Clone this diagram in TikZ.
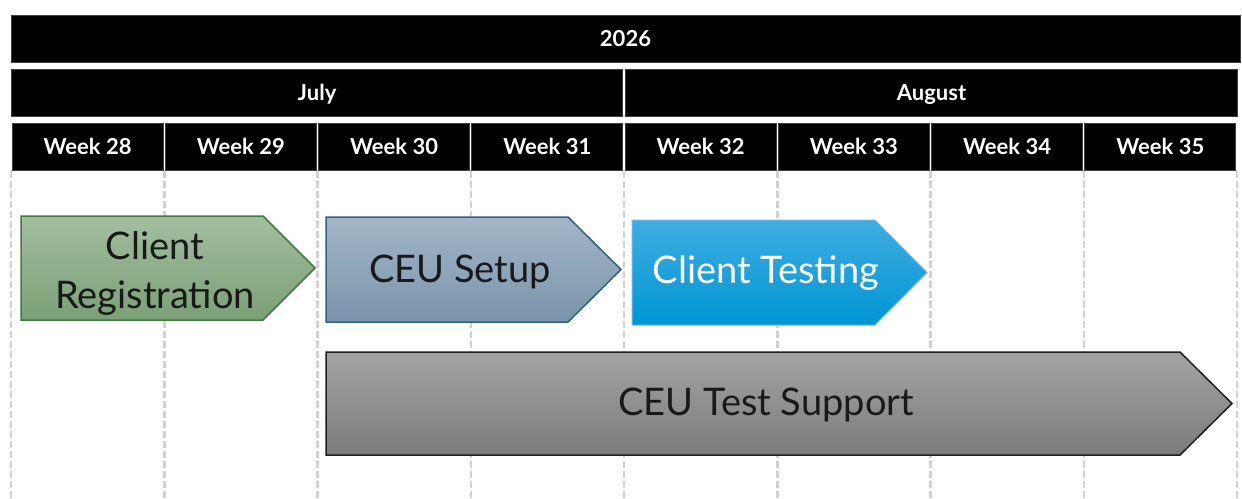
\documentclass[tikz,border=0pt]{standalone}
\usepackage{fontspec}
\setmainfont{Lato}
\definecolor{grtop}{RGB}{163,190,160}
\definecolor{grbot}{RGB}{122,160,118}
\definecolor{grline}{RGB}{62,125,58}
\definecolor{bltop}{RGB}{163,181,198}
\definecolor{blbot}{RGB}{122,148,172}
\definecolor{blline}{RGB}{46,98,130}
\definecolor{cytop}{RGB}{64,172,226}
\definecolor{cybot}{RGB}{0,150,212}
\definecolor{cyline}{RGB}{110,190,232}
\definecolor{gytop}{RGB}{163,163,163}
\definecolor{gybot}{RGB}{124,124,124}
\definecolor{gyline}{RGB}{30,30,30}
\definecolor{gridc}{RGB}{210,210,210}
\begin{document}
\begin{tikzpicture}[x=1pt,y=-1pt,
  hdr/.style={fill=black,draw=black!75,line width=0.8pt,text=white,
    font=\bfseries\fontsize{22}{24}\selectfont,inner sep=0pt,
    text height=15.5pt,text depth=0pt,anchor=center,minimum height=47pt},
  gridline/.style={draw=gridc,line width=2.5pt,dash pattern=on 7pt off 3pt},
  chevron/.style={line width=1.5pt},
  lbl/.style={font=\fontsize{38}{49}\selectfont,align=center,inner sep=0pt,text=black!90}]
\useasboundingbox (0,0) rectangle (1242,498);
% grid lines
\foreach \i in {0,...,8}{
  \coordinate (g\i top) at ({11+153.25*\i},171);
  \coordinate (g\i bot) at ({11+153.25*\i},498);
  \draw[gridline] (g\i top) -- (g\i bot);
}
% headers
\node[hdr,minimum width=1229pt] (year) at (625.5,38.5) {2026};
\node[hdr,minimum width=611pt] (july) at (317,92.5) {July};
\node[hdr,minimum width=612pt] (aug) at (931.5,92.5) {August};
\foreach \i/\w in {0/28,1/29,2/30,3/31,4/32,5/33,6/34,7/35}{
  \node[hdr,minimum width=151pt] (w\w) at ({11+153.25*(\i+0.5)},146.5) {Week \w};
}
% chevrons
\path[chevron,draw=grline,top color=grtop,bottom color=grbot]
  (21,216) -- (263,216) -- (315,268) -- (263,320) -- (21,320) -- cycle;
\node[lbl] (reg) at (155,273) {Client\\Registration};
\path[chevron,draw=blline,top color=bltop,bottom color=blbot]
  (326,217) -- (568,217) -- (621,269.5) -- (568,322) -- (326,322) -- cycle;
\node[lbl,anchor=base] (setup) at (460,282) {CEU Setup};
\path[chevron,line width=1pt,draw=cyline,top color=cytop,bottom color=cybot]
  (632,220) -- (875,220) -- (927,272.5) -- (875,325) -- (632,325) -- cycle;
\node[lbl,anchor=base,text=white] (testing) at (766,283) {Client Testing};
\path[chevron,draw=gyline,top color=gytop,bottom color=gybot]
  (326,352) -- (1180,352) -- (1232,403.5) -- (1180,455) -- (326,455) -- cycle;
\node[lbl,anchor=base] (support) at (766,415) {CEU Test Support};
\end{tikzpicture}
\end{document}
